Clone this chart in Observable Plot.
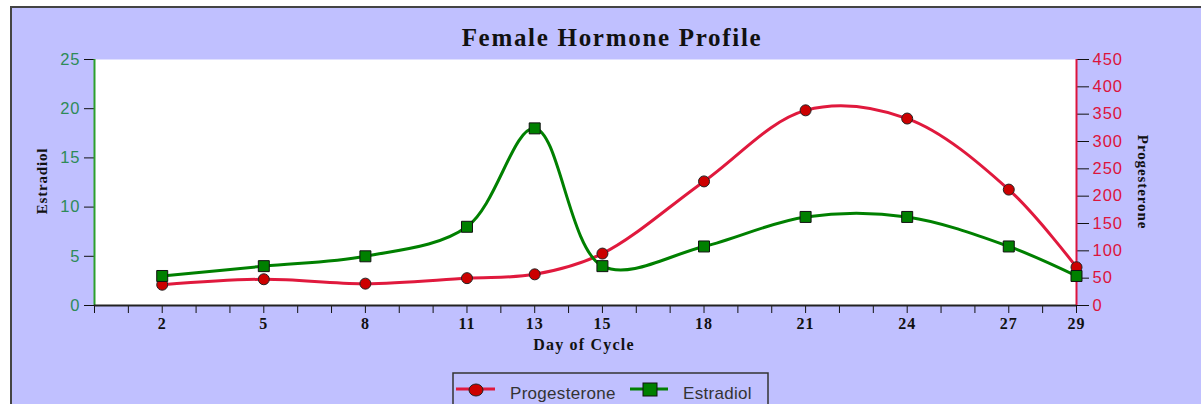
<!DOCTYPE html>
<html>
<head>
<meta charset="utf-8">
<script src="https://cdn.jsdelivr.net/npm/d3@7"></script>
<script src="https://cdn.jsdelivr.net/npm/@observablehq/plot@0.6"></script>
<style>
  html, body { margin: 0; padding: 0; background: #fff; width: 1201px; height: 404px; overflow: hidden; }
  body { position: relative; }
  #frame { position: absolute; left: 10px; top: 6px; width: 1220px; height: 430px; background: #C0C0FF;
           border-left: 2px solid #444; border-top: 2px solid #444; box-sizing: border-box; }
  #chart { position: absolute; left: 0; top: 0; }
  #overlay { position: absolute; left: 0; top: 0; }
</style>
</head>
<body>
<div id="frame"></div>
<div id="chart"></div>
<svg id="overlay" width="1201" height="404"></svg>
<script>
// ---- data ----
const days = [2, 5, 8, 11, 13, 15, 18, 21, 24, 27, 29];
const estradiol = [3, 4, 5, 8, 18, 4, 6, 9, 9, 6, 3];
const progesterone = [38, 48, 40, 50, 57, 95, 227, 357, 342, 212, 70];
const estradiolTicks = [0, 5, 10, 15, 20, 25];
const progesteroneTicks = [0, 50, 100, 150, 200, 250, 300, 350, 400, 450];
const dayTicks = d3.range(0, 30);
const estradiolMax = 25;
const progesteroneMax = 450;
const titleText = "Female Hormone Profile";
const xTitle = "Day of Cycle";
const seriesNames = ["Progesterone", "Estradiol"];

// ---- build ----
const k = estradiolMax / progesteroneMax;
const estData = days.map((day, i) => ({day, value: estradiol[i]}));
const progData = days.map((day, i) => ({day, value: progesterone[i]}));

const RED = "#E0193D", GREEN = "#008000";
const sans = "Liberation Sans, Arial, sans-serif";
const serif = "Liberation Serif, Times New Roman, serif";

const chart = Plot.plot({
  width: 1201,
  height: 404,
  marginLeft: 94,
  marginRight: 125,
  marginTop: 59,
  marginBottom: 99,
  x: {domain: [0, 29], label: null},
  y: {domain: [0, estradiolMax], label: null},
  style: "background: transparent; letter-spacing: 1px; overflow: visible;",
  marks: [
    Plot.frame({fill: "white", stroke: null}),
    Plot.axisY({ticks: estradiolTicks, anchor: "left", tickSize: 10, tickFormat: () => "", color: "#111", label: null}),
    Plot.axisY({ticks: estradiolTicks, anchor: "left", tickSize: 0, tickPadding: 14, color: "#2E8B57",
                fontSize: 16.5, fontFamily: sans, label: null}),
    Plot.axisY({ticks: progesteroneTicks.map(v => v * k), anchor: "right", tickSize: 12, tickFormat: () => "", color: "#111", label: null}),
    Plot.axisY({ticks: progesteroneTicks.map(v => v * k), anchor: "right", tickSize: 0, tickPadding: 16,
                tickFormat: v => Math.round(v / k), color: "#DC143C", fontSize: 16.5, fontFamily: sans, label: null}),
    Plot.axisX({ticks: dayTicks, tickSize: 8, tickFormat: () => "", color: "#111", label: null}),
    Plot.axisX({ticks: days, tickSize: 0, tickPadding: 12, color: "#111", fontSize: 16, fontWeight: "bold",
                fontFamily: serif, label: null}),
    Plot.ruleX([0], {stroke: "#2ca02c", strokeWidth: 2}),
    Plot.ruleX([29], {stroke: "#DC143C", strokeWidth: 2}),
    Plot.ruleY([0], {stroke: "#222", strokeWidth: 2}),
    Plot.line(progData, {x: "day", y: d => d.value * k, curve: "catmull-rom", stroke: RED, strokeWidth: 3}),
    Plot.dot(progData, {x: "day", y: d => d.value * k, r: 5.5, fill: "#CC0000", stroke: "#222", strokeWidth: 1}),
    Plot.line(estData, {x: "day", y: "value", curve: "catmull-rom", stroke: GREEN, strokeWidth: 3}),
    Plot.dot(estData, {x: "day", y: "value", symbol: "square", r: 6.2, fill: GREEN, stroke: "#111", strokeWidth: 1})
  ]
});
document.getElementById("chart").appendChild(chart);

// ---- titles & legend ----
const ov = d3.select("#overlay");
ov.append("text").attr("x", 612).attr("y", 46).attr("text-anchor", "middle")
  .style("font", `bold 25px ${serif}`).style("letter-spacing", "1.7px").attr("fill", "#111").text(titleText);
ov.append("text").attr("x", 584).attr("y", 350).attr("text-anchor", "middle")
  .style("font", `bold 16px ${serif}`).style("letter-spacing", "1.2px").attr("fill", "#111").text(xTitle);
ov.append("text").attr("transform", "translate(47,181) rotate(-90)").attr("text-anchor", "middle")
  .style("font", `bold 15px ${serif}`).style("letter-spacing", "0.8px").attr("fill", "#111").text(seriesNames[1]);
ov.append("text").attr("transform", "translate(1138,182) rotate(90)").attr("text-anchor", "middle")
  .style("font", `bold 15px ${serif}`).style("letter-spacing", "0.9px").attr("fill", "#111").text(seriesNames[0]);

// legend box
ov.append("rect").attr("x", 453).attr("y", 373).attr("width", 315).attr("height", 60)
  .attr("fill", "#C0C0FF").attr("stroke", "#333").attr("stroke-width", 1.5);
ov.append("line").attr("x1", 456).attr("x2", 495).attr("y1", 389).attr("y2", 389).attr("stroke", RED).attr("stroke-width", 3);
ov.append("ellipse").attr("cx", 476).attr("cy", 390).attr("rx", 7).attr("ry", 6).attr("fill", "#CC0000").attr("stroke", "#222");
ov.append("text").attr("x", 510).attr("y", 399).style("font", `17px ${sans}`).style("letter-spacing", "0.3px")
  .attr("fill", "#333").text(seriesNames[0]);
ov.append("line").attr("x1", 630).attr("x2", 668).attr("y1", 389).attr("y2", 389).attr("stroke", GREEN).attr("stroke-width", 3);
ov.append("rect").attr("x", 643).attr("y", 383).attr("width", 14).attr("height", 13).attr("fill", GREEN).attr("stroke", "#111");
ov.append("text").attr("x", 683).attr("y", 399).style("font", `17px ${sans}`).style("letter-spacing", "0.3px")
  .attr("fill", "#333").text(seriesNames[1]);
</script>
</body>
</html>
